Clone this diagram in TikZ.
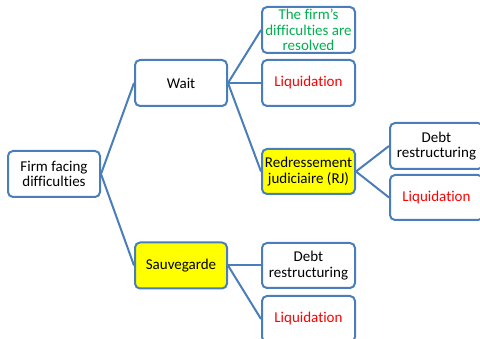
\documentclass[tikz,border=0pt]{standalone}
\usepackage{fontspec}
\setmainfont[Ligatures=NoCommon]{Carlito}
\definecolor{edgeblue}{HTML}{4A7EBB}
\definecolor{okgreen}{HTML}{00B050}
\definecolor{liqred}{HTML}{FF0000}
\definecolor{hlyellow}{HTML}{FFFF00}
\begin{document}
\begin{tikzpicture}[x=1pt,y=-1pt,
  box/.style={draw=edgeblue, line width=2pt, rounded corners=5pt, fill=white,
    align=center, inner sep=0pt, minimum width=92pt, minimum height=46pt,
    font=\fontsize{15}{15.5}\selectfont},
  hl/.style={box, fill=hlyellow},
  link/.style={draw=edgeblue, line width=2pt}]
\useasboundingbox (0,0) rectangle (480,339);
\clip (0,0) rectangle (480,339);
% boxes
\node[box] (firm) at (54,174) {Firm facing\\difficulties};
\node[box] (wait) at (181,83) {Wait};
\node[hl]  (sauv) at (181,265.5) {Sauvegarde};
\node[box, minimum width=93pt] (res) at (308.5,30) {\textcolor{okgreen}{The firm’s}\\\textcolor{okgreen}{difficulties are}\\\textcolor{okgreen}{resolved}};
\node[box, minimum width=93pt] (liqa) at (308.5,83) {\textcolor{liqred}{Liquidation}};
\node[hl, minimum width=93pt, minimum height=45pt] (rj) at (308.5,171.5) {Redressement\\judiciaire (RJ)};
\node[box, minimum width=93pt] (debta) at (436.5,146) {Debt\\restructuring};
\node[box, minimum width=93pt, minimum height=45pt] (liqb) at (436.5,197.5) {\textcolor{liqred}{Liquidation}};
\node[box, minimum width=93pt, minimum height=45pt] (debtb) at (308.5,265.5) {Debt\\restructuring};
\node[box, minimum width=93pt] (liqc) at (308.5,319) {\textcolor{liqred}{Liquidation}};
% connectors
\draw[link] (firm.east) -- (wait.west);
\draw[link] (firm.east) -- (sauv.west);
\draw[link] (wait.east) -- (res.west);
\draw[link] (wait.east) -- (liqa.west);
\draw[link] (wait.east) -- (rj.west);
\draw[link] (rj.east) -- (debta.west);
\draw[link] (rj.east) -- (liqb.west);
\draw[link] (sauv.east) -- (debtb.west);
\draw[link] (sauv.east) -- (liqc.west);
\end{tikzpicture}
\end{document}
